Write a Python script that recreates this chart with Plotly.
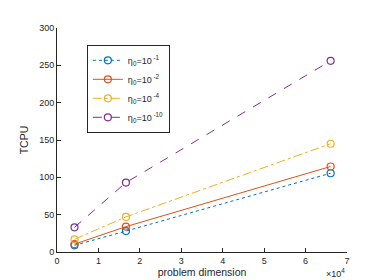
import plotly.graph_objects as go

dims = [4225, 16641, 66049]
series_names = ["η<sub>0</sub>=10<sup> -1</sup>", "η<sub>0</sub>=10<sup> -2</sup>",
                "η<sub>0</sub>=10<sup> -4</sup>", "η<sub>0</sub>=10<sup> -10</sup>"]
tcpu_1 = [9, 28, 105.5]
tcpu_2 = [10.5, 34, 114.5]
tcpu_4 = [17, 47, 145]
tcpu_10 = [33, 93, 256]
xtick_vals = [0, 10000, 20000, 30000, 40000, 50000, 60000, 70000]
xtick_text = ["0", "1", "2", "3", "4", "5", "6", "7"]
ytick_vals = [0, 50, 100, 150, 200, 250, 300]

colors = ["#0072BD", "#D95319", "#EDB120", "#7E2F8E"]
dashes = ["dot", "solid", "dashdot", "dash"]

fig = go.Figure()
for name, vals, c, d in zip(series_names, [tcpu_1, tcpu_2, tcpu_4, tcpu_10], colors, dashes):
    fig.add_trace(go.Scatter(
        x=dims, y=vals, name=name, mode="lines+markers",
        line=dict(color=c, dash=d, width=1),
        marker=dict(symbol="circle-open", size=7, color=c, line=dict(width=1.2, color=c)),
    ))

fam = "Liberation Sans, Arial, sans-serif"
gray = "#262626"
fig.update_layout(
    width=374, height=280,
    margin=dict(l=49, r=35, t=20, b=32),
    paper_bgcolor="white", plot_bgcolor="white",
    font=dict(family=fam, size=10, color=gray),
    showlegend=True,
    legend=dict(x=0.103, y=0.925, xanchor="left", yanchor="top",
                bordercolor=gray, borderwidth=1, bgcolor="white",
                font=dict(family=fam, size=9, color=gray),
                tracegroupgap=0, itemwidth=30),
    xaxis=dict(range=[0, 70000], tickvals=xtick_vals, ticktext=xtick_text,
               showgrid=False, zeroline=False, showline=True, linecolor=gray, linewidth=1,
               ticks="inside", ticklen=4, tickcolor=gray,
               tickfont=dict(family=fam, size=9, color=gray),
               title=dict(text="problem dimension", standoff=3,
                          font=dict(family=fam, size=10.5, color=gray))),
    yaxis=dict(range=[0, 300], tickvals=ytick_vals,
               showgrid=False, zeroline=False, showline=True, linecolor=gray, linewidth=1,
               ticks="inside", ticklen=4, tickcolor=gray,
               tickfont=dict(family=fam, size=9, color=gray),
               title=dict(text="TCPU", standoff=8,
                          font=dict(family=fam, size=10.5, color=gray))),
    annotations=[dict(text="×10<sup>4</sup>", x=1.0, y=-0.06, xref="paper", yref="paper",
                      xanchor="right", yanchor="top", showarrow=False,
                      font=dict(family=fam, size=9, color=gray))],
)

fig.write_html("out.html")
